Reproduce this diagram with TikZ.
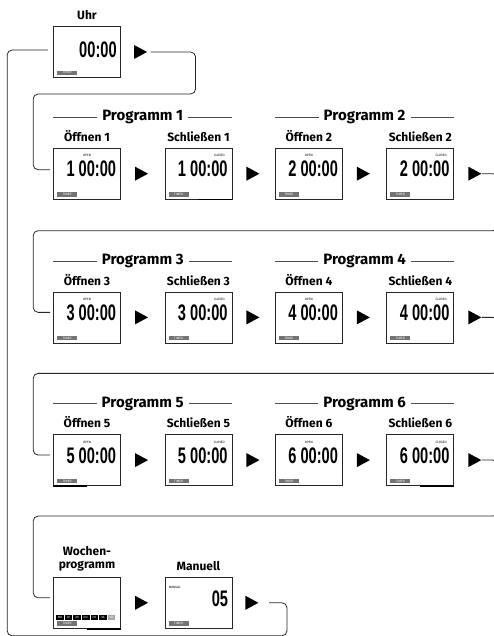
\documentclass[tikz,border=0pt]{standalone}
\usepackage{fontspec}
\setmainfont{Fira Sans}
\newfontfamily\lcdfont[FakeStretch=0.65]{Liberation Sans}
\usetikzlibrary{positioning}
\usetikzlibrary{shapes.geometric}
\tikzset{
  lcd/.style={draw=black!85, line width=0.7pt, minimum width=67pt, minimum height=51pt, inner sep=0pt},
  tri/.style={isosceles triangle, isosceles triangle stretches, fill=black, inner sep=0pt, minimum height=13pt, minimum width=14pt},
  caption/.style={font=\bfseries\fontsize{12}{13}\selectfont, inner sep=1pt, align=center},
  heading/.style={font=\bfseries\fontsize{15}{16}\selectfont, inner ysep=1pt, inner xsep=5pt},
  rule/.style={draw=black!70, line width=0.8pt},
  digits/.style={font=\lcdfont\bfseries\fontsize{22.5}{23}\selectfont, inner sep=0pt},
  lcdmark/.style={font=\fontsize{3.2}{4}\selectfont, inner sep=0pt},
  tag/.style={fill=black!55, text=white, minimum width=20pt, minimum height=4.5pt, inner sep=0pt, font=\fontsize{3.2}{4}\selectfont},
  day/.style={fill=black, text=white, minimum width=7.6pt, minimum height=5pt, inner sep=0pt, font=\fontsize{3}{4}\selectfont},
  conn/.style={draw=black!85, line width=0.8pt, rounded corners=5pt},
}

\begin{document}
\begin{tikzpicture}
  \useasboundingbox (0,0) rectangle (494pt,636pt);

  \node [lcd] (uhr) at (87pt,584pt) {};
  \node [caption, above=5pt of uhr] (cuhr) {Uhr};
  \node [tri, right=13pt of uhr] (tuhr) {};
  \node [digits, anchor=east] (duhr) at ([xshift=-4pt,yshift=2pt]uhr.east) {00:00};
  \node [tag] (guhr) at ([xshift=14pt,yshift=5pt]uhr.south west) {TIMER};

  % three rows of programs
  \foreach \a/\b/\c/\d/\up/\gap in {o1/s1/o2/s2/uhr/70pt, o3/s3/o4/s4/o1/92pt, o5/s5/o6/s6/o3/91pt} {
    \node [lcd, below=\gap of \up] (\a) {};
    \node [tri, right=14pt of \a] (t\a) {};
    \node [lcd, right=16pt of t\a] (\b) {};
    \node [tri, right=14pt of \b] (t\b) {};
    \node [lcd, right=15pt of t\b] (\c) {};
    \node [tri, right=14pt of \c] (t\c) {};
    \node [lcd, right=16pt of t\c] (\d) {};
    \node [tri, right=14pt of \d] (t\d) {};
  }

  \foreach \i in {1,...,6} {
    \node [caption, above=5pt of o\i] (co\i) {Öffnen \i};
    \node [caption, above=5pt of s\i] (cs\i) {Schließen \i};
    \node [digits, anchor=east] (do\i) at ([xshift=-4.5pt,yshift=4.5pt]o\i.east) {\i\ 00:00};
    \node [digits, anchor=east] (ds\i) at ([xshift=-4.5pt,yshift=4.5pt]s\i.east) {\i\ 00:00};
    \node [lcdmark] (mo\i) at ([yshift=18pt]o\i.center) {OPEN};
    \node [lcdmark] (ms\i) at ([xshift=-13pt,yshift=18pt]s\i.east) {CLOSED};
    \node [tag] (go\i) at ([xshift=14pt,yshift=5pt]o\i.south west) {TIMER};
    \node [tag] (gs\i) at ([xshift=14pt,yshift=5pt]s\i.south west) {TIMER};
  }

  \foreach \a/\b/\k in {o1/s1/1, o2/s2/2, o3/s3/3, o4/s4/4, o5/s5/5, o6/s6/6} {
    \path (\a.north) -- (\b.north) node [heading, midway, above=22.5pt] (prog\k) {Programm \k};
    \draw [rule] (prog\k.west) -- (prog\k.west -| \a.west);
    \draw [rule] (prog\k.east) -- (prog\k.east -| \b.east);
  }

  \node [lcd, below=91pt of o5] (woche) {};
  \node [tri, right=14pt of woche] (twoche) {};
  \node [lcd, right=16pt of twoche] (manuell) {};
  \node [tri, right=13pt of manuell] (tmanuell) {};
  \node [caption, above=5pt of woche] (cwoche) {Wochen-\\programm};
  \node [caption, above=5pt of manuell] (cmanuell) {Manuell};
  \node [digits, anchor=east] (dmanuell) at ([xshift=-4pt,yshift=4pt]manuell.east) {05};
  \node [lcdmark, anchor=west] (mmanuell) at ([xshift=4pt,yshift=-10pt]manuell.north west) {MANUAL};
  \node [tag] (gwoche) at ([xshift=14pt,yshift=5pt]woche.south west) {TIMER};
  \node [tag] (gmanuell) at ([xshift=14pt,yshift=5pt]manuell.south west) {TIMER};
  \foreach \d [count=\i] in {MO,DI,MI,DO,FR,SA} {
    \node [day] (day\i) at ([xshift={6.8pt+(\i-1)*8.6pt},yshift=11pt]woche.south west) {\d};
  }
  \node [day, fill=black!35] (day7) at ([xshift=58.4pt,yshift=11pt]woche.south west) {SO};

  % heavy bottom edges
  \draw [line width=1.8pt] (s1.south) -- (s1.south east);
  \draw [line width=1.8pt] (o5.south west) -- (o5.south);
  \draw [line width=1.8pt] (s6.south) -- (s6.south east);
  \draw [line width=1.8pt] (woche.south) -- (woche.south east);

  \draw [conn, shorten <=3pt] (tuhr.east) -- ++(48pt,0) -- ++(0,-42pt) -| ([xshift=-20pt,yshift=4pt]o1.west) -- ([xshift=-3pt,yshift=4pt]o1.west);
  \draw [conn] (ts2.east) -- ++(16pt,0) -- ++(0,-57pt) -| ([xshift=-20pt,yshift=5pt]o3.west) -- ([xshift=-3pt,yshift=5pt]o3.west);
  \draw [conn] (ts4.east) -- ++(16pt,0) -- ++(0,-56pt) -| ([xshift=-20pt,yshift=5pt]o5.west) -- ([xshift=-3pt,yshift=5pt]o5.west);
  \draw [conn] (ts6.east) -- ++(16pt,0) -- ++(0,-56pt) -| ([xshift=-20pt,yshift=5pt]woche.west) -- ([xshift=-3pt,yshift=5pt]woche.west);
  \draw [conn, shorten <=10pt] (tmanuell.east) -- ++(28pt,0) -- ++(0,-33pt) -| ([xshift=-46pt,yshift=2pt]uhr.west) -- ([xshift=-5pt,yshift=2pt]uhr.west);

\end{tikzpicture}
\end{document}
